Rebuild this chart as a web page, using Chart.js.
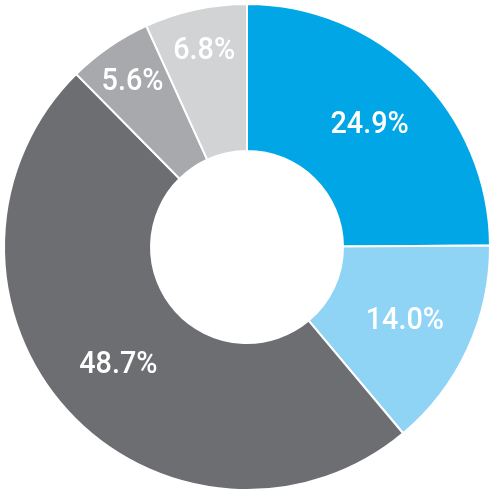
<!DOCTYPE html>
<html>
<head>
<meta charset="utf-8">
<script src="https://cdn.jsdelivr.net/npm/chart.js@4.4.1/dist/chart.umd.min.js"></script>
<style>
  html, body { margin: 0; padding: 0; background: #fff; }
  #wrap { width: 494px; height: 494px; }
</style>
</head>
<body>
<div id="wrap"><canvas id="canvas"></canvas></div>
<script>
// andeler i prosent, med klokka fra toppen
const labels = ['A', 'B', 'C', 'D', 'E']
const values = [24.9, 14.0, 48.7, 5.6, 6.8]
const valueLabels = ['24.9%', '14.0%', '48.7%', '5.6%', '6.8%']
const colors = ['#00a6e6', '#8fd3f5', '#6d6e71', '#a7a9ac', '#d1d3d4']

// enkel plugin for å skrive prosentene inne i ringen
const sliceLabels = {
    id: 'sliceLabels',
    afterDatasetsDraw(chart) {
        const ctx = chart.ctx
        const meta = chart.getDatasetMeta(0)
        ctx.save()
        ctx.fillStyle = '#ffffff'
        ctx.font = '500 32px Roboto, sans-serif'
        ctx.textAlign = 'center'
        ctx.textBaseline = 'middle'
        meta.data.forEach(function (arc, i) {
            const p = arc.getProps(['startAngle', 'endAngle', 'innerRadius', 'outerRadius', 'x', 'y'], true)
            const mid = (p.startAngle + p.endAngle) / 2
            // små biter får teksten lenger ut
            const frac = values[i] < 10 ? 0.72 : 0.53
            const r = p.innerRadius + (p.outerRadius - p.innerRadius) * frac
            const tx = p.x + Math.cos(mid) * r
            const ty = p.y + Math.sin(mid) * r
            // smalere skrift, som i originalen
            ctx.save()
            ctx.translate(tx, ty)
            ctx.scale(0.9, 1)
            ctx.fillText(valueLabels[i], 0, 1)
            ctx.restore()
        })
        ctx.restore()
    }
}

const ctx = document.getElementById('canvas').getContext('2d')
const config = {
    type: 'doughnut',
    data: {
        labels: labels,
        datasets: [{
            data: values,
            backgroundColor: colors,
            borderColor: '#ffffff',
            borderWidth: 2
        }]
    },
    options: {
        responsive: true,
        maintainAspectRatio: false,
        animation: false,
        cutout: '39.5%',
        layout: { padding: 3 },
        plugins: {
            legend: { display: false },
            tooltip: { enabled: false }
        }
    },
    plugins: [sliceLabels]
}
const myChart = new Chart(ctx, config)
</script>
</body>
</html>
